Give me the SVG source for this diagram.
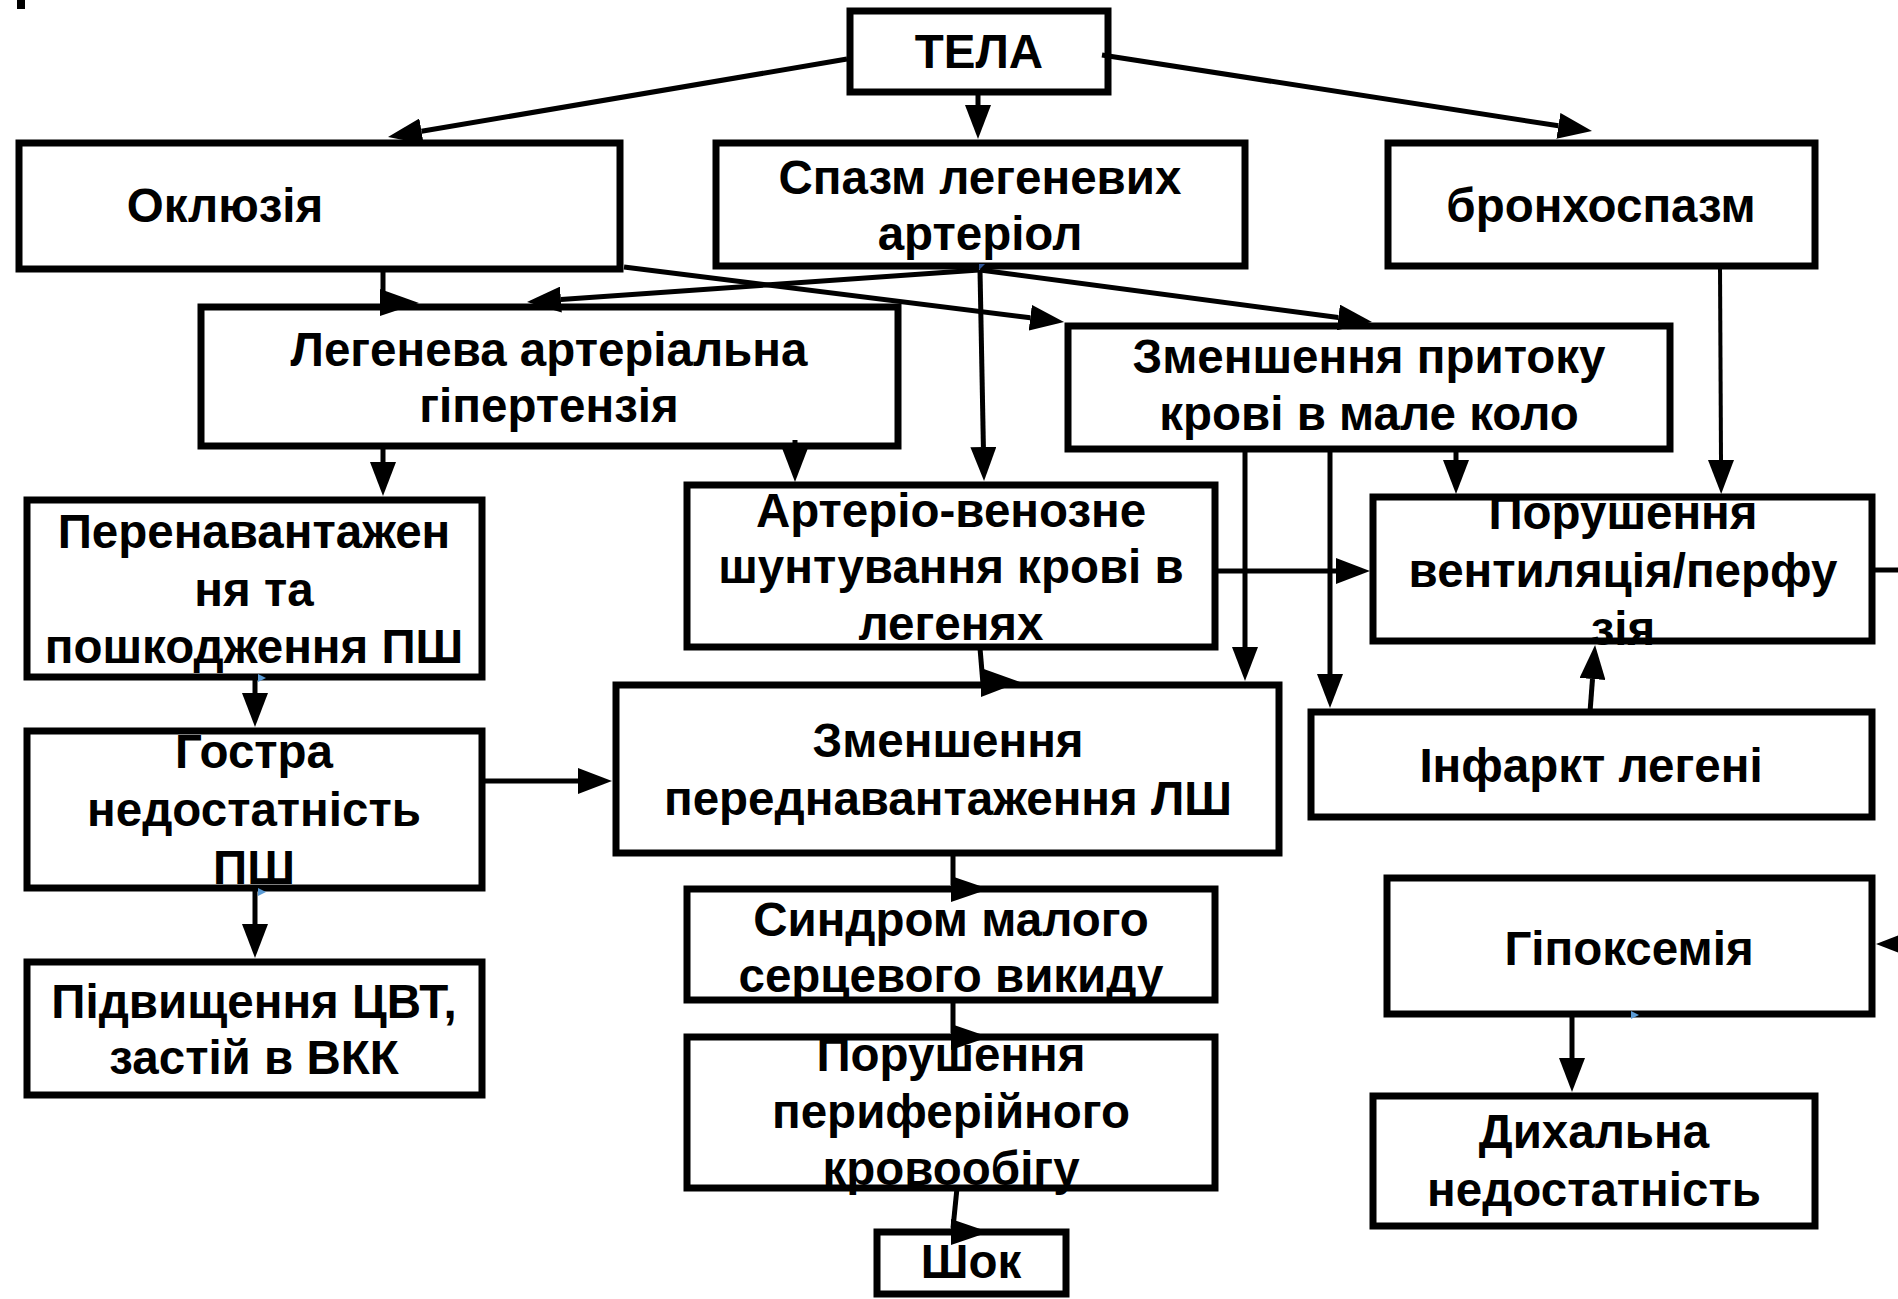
<svg xmlns="http://www.w3.org/2000/svg" width="1898" height="1299" viewBox="0 0 1898 1299">
<defs>
<marker id="ah" viewBox="0 0 34 26" refX="0" refY="13" markerWidth="34" markerHeight="26" markerUnits="userSpaceOnUse" orient="auto">
<path d="M0,0 L34,13 L0,26 Z" fill="#000"/>
</marker>
</defs>
<style>
.box{fill:#fff;stroke:#000;stroke-width:7}
.t{font-family:"Liberation Sans",Arial,sans-serif;font-weight:bold;font-size:47.5px;fill:#000;text-anchor:middle}
.c{fill:none;stroke:#000;stroke-width:5}
.ca{fill:none;stroke:#000;stroke-width:5;marker-end:url(#ah)}
.h{fill:#000}
.blue{fill:#5b9bd5}
</style>
<rect width="1898" height="1299" fill="#fff"/>
<rect x="17" y="0" width="8" height="9" fill="#000"/>

<g id="n-tela"><rect class="box" x="850" y="11" width="258" height="81"/><text class="t" x="979" y="68">ТЕЛА</text></g>
<g id="n-okluziia"><rect class="box" x="19" y="143" width="601" height="126"/><text class="t" x="225" y="222">Оклюзія</text></g>
<g id="n-spazm"><rect class="box" x="716" y="143" width="529" height="123"/><text class="t" x="980" y="194">Спазм легеневих</text><text class="t" x="980" y="250">артеріол</text></g>
<g id="n-bronkho"><rect class="box" x="1388" y="143" width="427" height="123"/><text class="t" x="1601" y="222">бронхоспазм</text></g>
<g id="n-lah"><rect class="box" x="201" y="307" width="697" height="139"/><text class="t" x="549" y="366">Легенева артеріальна</text><text class="t" x="549" y="422">гіпертензія</text></g>
<g id="n-prytok"><rect class="box" x="1068" y="326" width="602" height="123"/><text class="t" x="1369" y="373">Зменшення притоку</text><text class="t" x="1369" y="430">крові в мале коло</text></g>
<g id="n-perenav"><rect class="box" x="27" y="500" width="455" height="177"/><text class="t" x="254" y="548">Перенавантажен</text><text class="t" x="254" y="606">ня та</text><text class="t" x="254" y="663">пошкодження ПШ</text></g>
<g id="n-shunt"><rect class="box" x="687" y="485" width="528" height="162"/><text class="t" x="951" y="527">Артеріо-венозне</text><text class="t" x="951" y="583">шунтування крові в</text><text class="t" x="951" y="640">легенях</text></g>
<g id="n-vent"><rect class="box" x="1373" y="497" width="499" height="144"/><text class="t" x="1623" y="529">Порушення</text><text class="t" x="1623" y="587">вентиляція/перфу</text><text class="t" x="1623" y="645">зія</text></g>
<g id="n-hostra"><rect class="box" x="27" y="731" width="455" height="157"/><text class="t" x="254" y="768">Гостра</text><text class="t" x="254" y="826">недостатність</text><text class="t" x="254" y="884">ПШ</text></g>
<g id="n-perednav"><rect class="box" x="616" y="685" width="663" height="168"/><text class="t" x="948" y="757">Зменшення</text><text class="t" x="948" y="815">переднавантаження ЛШ</text></g>
<g id="n-infarkt"><rect class="box" x="1311" y="712" width="561" height="105"/><text class="t" x="1591" y="782">Інфаркт легені</text></g>
<g id="n-tsvt"><rect class="box" x="27" y="962" width="455" height="133"/><text class="t" x="254" y="1018">Підвищення ЦВТ,</text><text class="t" x="254" y="1074">застій в ВКК</text></g>
<g id="n-syndrom"><rect class="box" x="687" y="889" width="528" height="111"/><text class="t" x="951" y="936">Синдром малого</text><text class="t" x="951" y="992">серцевого викиду</text></g>
<g id="n-hipoks"><rect class="box" x="1387" y="878" width="485" height="136"/><text class="t" x="1629" y="965">Гіпоксемія</text></g>
<g id="n-peryf"><rect class="box" x="687" y="1037" width="528" height="151"/><text class="t" x="951" y="1071">Порушення</text><text class="t" x="951" y="1128">периферійного</text><text class="t" x="951" y="1185">кровообігу</text></g>
<g id="n-dykh"><rect class="box" x="1373" y="1096" width="442" height="130"/><text class="t" x="1594" y="1148">Дихальна</text><text class="t" x="1594" y="1206">недостатність</text></g>
<g id="n-shok"><rect class="box" x="877" y="1232" width="189" height="62"/><text class="t" x="971" y="1278">Шок</text></g>

<g id="connectors">
<path class="ca" d="M847,59 L421.5,131.3"/>
<path class="ca" d="M978,92 L978,105"/>
<path class="ca" d="M1102,55 L1558.4,125.8"/>
<path class="c" d="M383,270 L383,300"/>
<polygon class="h" points="380,289 380,316 419,303"/>
<path class="ca" d="M979,270 L560.9,299.6"/>
<path class="ca" d="M980,270 L983.4,447"/>
<path class="ca" d="M980,270 L1338.3,317.5"/>
<path class="ca" d="M624,267 L1030.3,317.8"/>
<path class="ca" d="M383,446 L383,462"/>
<path class="ca" d="M795,440 L795,448"/>
<path class="ca" d="M255,677 L255,693"/>
<path class="ca" d="M482,781 L578,781"/>
<path class="ca" d="M255,888 L255,924"/>
<path class="ca" d="M1245,449 L1245,647"/>
<path class="ca" d="M1330,449 L1330,674"/>
<path class="ca" d="M1456,449 L1456,460"/>
<path class="ca" d="M1720,266 L1721,460" style="stroke-width:4"/>
<path class="ca" d="M1215,571 L1336,571"/>
<path class="ca" d="M1590,712 L1592.5,679"/>
<path class="c" d="M1872,570 L1898,570"/>
<path class="c" d="M1898,944 L1905,944"/>
<polygon class="h" points="1876,944 1910,931 1910,957"/>
<path class="ca" d="M1572,1014 L1572,1058"/>
<path class="c" d="M980,648 L983,684"/>
<polygon class="h" points="981,668 981,697 1020,682"/>
<path class="c" d="M953,853 L953,885"/>
<polygon class="h" points="951,876 951,902 989,889"/>
<path class="c" d="M953,1000 L953,1033"/>
<polygon class="h" points="951,1024 951,1050 989,1037"/>
<path class="c" d="M957,1188 L953,1228"/>
<polygon class="h" points="951,1219 951,1245 989,1232"/>
<polygon class="blue" points="258,674 266,678 258,682"/>
<polygon class="blue" points="258,888 266,892 258,896"/>
<polygon class="blue" points="1631,1011 1639,1015 1631,1019"/>
<polygon class="blue" points="979,264 985,264 979,270" style="fill:#2f5597"/>
</g>
</svg>
